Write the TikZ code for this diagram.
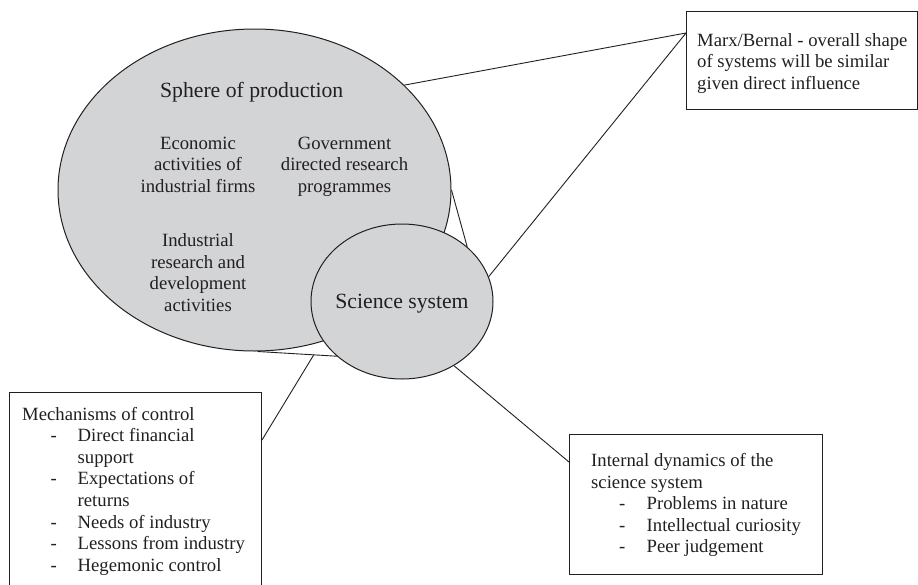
\documentclass[tikz,border=0pt]{standalone}
\usepackage{fontspec}
\setmainfont{Liberation Serif}
\usetikzlibrary{shapes.geometric,calc}
\definecolor{fillg}{RGB}{211,212,214}
\definecolor{ink}{RGB}{35,31,32}
\tikzset{
  blob/.style={ellipse, draw=ink, fill=fillg, line width=1pt, inner sep=0pt},
  box/.style={rectangle, draw=ink, line width=1pt, inner sep=0pt},
  link/.style={draw=ink, line width=0.9pt},
  txt/.style={inner sep=0pt, text=ink, font=\fontsize{18.7}{21.6}\selectfont},
  big/.style={inner sep=0pt, text=ink, font=\fontsize{21.7}{25}\selectfont}
}
\begin{document}
\begin{tikzpicture}[x=1pt,y=-1pt]
\useasboundingbox (0,0) rectangle (918,584);
\clip (0,0) rectangle (918,584);
% shapes
\node[blob, minimum width=393pt, minimum height=322pt] (prod) at (254.5,190) {};
\node[blob, minimum width=182pt, minimum height=155pt] (sci) at (402,301.5) {};
% texts inside
\node[big, anchor=base] (sphere) at (251.7,97.3) {Sphere of production};
\node[txt, anchor=base] (econ) at (198,149) {\begin{tabular}[t]{@{}c@{}}Economic\\activities of\\industrial firms\end{tabular}};
\node[txt, anchor=base] (gov) at (344.5,149) {\begin{tabular}[t]{@{}c@{}}Government\\directed research\\programmes\end{tabular}};
\node[txt, anchor=base] (ind) at (198,246.7) {\begin{tabular}[t]{@{}c@{}}Industrial\\research and\\development\\activities\end{tabular}};
\node[big, anchor=base] (scit) at (402,308.3) {Science system};
% boxes
\node[box, minimum width=231pt, minimum height=97.5pt, anchor=north west] (marx) at (686,11) {};
\node[txt, anchor=base west] (marxt) at (697,46) {\begin{tabular}[t]{@{}l@{}}Marx/Bernal - overall shape\\of systems will be similar\\given direct influence\end{tabular}};
\node[box, minimum width=252pt, minimum height=200pt, anchor=north west] (mech) at (9,392) {};
\node[txt, anchor=base west] (mecht) at (22,420) {\begin{tabular}[t]{@{}p{28.5pt}@{}p{27pt}@{}l@{}}\multicolumn{3}{@{}l@{}}{Mechanisms of control}\\
 & - & Direct financial\\
 & & support\\
 & - & Expectations of\\
 & & returns\\
 & - & Needs of industry\\
 & - & Lessons from industry\\
 & - & Hegemonic control\end{tabular}};
\node[box, minimum width=253pt, minimum height=140pt, anchor=north west] (internal) at (569,434) {};
\node[txt, anchor=base west] (intt) at (591,466.5) {\begin{tabular}[t]{@{}p{28pt}@{}p{27.5pt}@{}l@{}}\multicolumn{3}{@{}l@{}}{Internal dynamics of the}\\
\multicolumn{3}{@{}l@{}}{science system}\\
 & - & Problems in nature\\
 & - & Intellectual curiosity\\
 & - & Peer judgement\end{tabular}};
% connectors
\coordinate (mj) at ($(marx.north west)+(0,22)$);
\draw[link] (prod.35) -- (mj);
\draw[link] (sci.16) -- (mj);
\draw[link] (prod.0) -- (sci.40);
\draw[link] (prod.-89) -- (sci.220);
\coordinate (mb) at ($(prod.-89)!0.71!(sci.220)$);
\coordinate (mc) at ($(mech.north east)+(0,48)$);
\draw[link] (mb) -- (mc);
\coordinate (ic) at ($(internal.north west)+(0,28)$);
\draw[link] (sci.-51) -- (ic);
\end{tikzpicture}
\end{document}
